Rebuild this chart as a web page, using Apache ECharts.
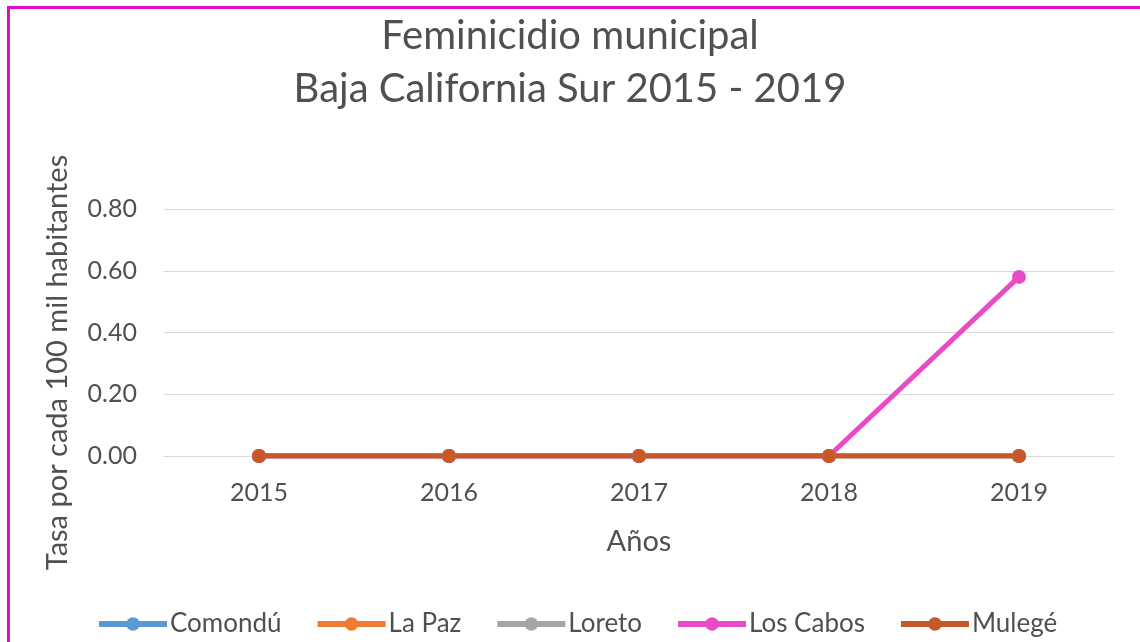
<!DOCTYPE html>
<html>
<head>
<meta charset="utf-8">
<script src="https://cdn.jsdelivr.net/npm/echarts@6/dist/echarts.min.js"></script>
<style>
  html, body { margin: 0; padding: 0; background: #fff; }
  #main { width: 1140px; height: 642px; }
  .marco {
    position: absolute; left: 7px; top: 6px; width: 1200px; height: 700px;
    border-left: 3px solid #E10BC6; border-top: 3px solid #E10BC6;
    pointer-events: none;
  }
</style>
</head>
<body>
<div id="main"></div>
<div class="marco"></div>
<script>
// años del eje x
var anios = ['2015', '2016', '2017', '2018', '2019'];
// tasas por municipio
var comondu = [0, 0, 0, 0, 0];
var laPaz = [0, 0, 0, 0, 0];
var loreto = [0, 0, 0, 0, 0];
var losCabos = [0, 0, 0, 0, 0.58];
var mulege = [0, 0, 0, 0, 0];

var municipios = [
  { name: 'Comondú', data: comondu, color: '#5B9BD5' },
  { name: 'La Paz', data: laPaz, color: '#ED7D31' },
  { name: 'Loreto', data: loreto, color: '#A5A5A5' },
  { name: 'Los Cabos', data: losCabos, color: '#E84BC5' },
  { name: 'Mulegé', data: mulege, color: '#C55A28' }
];

var fuente = 'Lato, "Open Sans", sans-serif';
var gris = '#505050';

var chart = echarts.init(document.getElementById('main'));
chart.setOption({
  animation: false,
  textStyle: { fontFamily: fuente },
  title: {
    text: 'Feminicidio municipal\nBaja California Sur 2015 - 2019',
    left: 'center',
    top: 5,
    textStyle: { fontFamily: fuente, fontSize: 40, fontWeight: 'normal', color: gris, lineHeight: 53 }
  },
  legend: {
    top: 606,
    left: 91,
    itemWidth: 68,
    itemHeight: 17,
    itemGap: 33,
    lineStyle: { width: 6 },
    textStyle: { fontFamily: fuente, fontSize: 26, color: gris, padding: [0, 0, 0, -2] },
    data: municipios.map(function (m) { return m.name; })
  },
  grid: { left: 164, right: 26, top: 209, bottom: 186 },
  xAxis: {
    type: 'category',
    data: anios,
    boundaryGap: true,
    name: 'Años',
    nameLocation: 'middle',
    nameGap: 71,
    nameTextStyle: { fontFamily: fuente, fontSize: 29, color: gris },
    axisLine: { lineStyle: { color: '#D9D9D9', width: 1 } },
    axisTick: { show: false },
    axisLabel: { fontFamily: fuente, fontSize: 25, color: gris, margin: 24 }
  },
  yAxis: {
    type: 'value',
    min: 0,
    max: 0.8,
    interval: 0.2,
    name: 'Tasa por cada 100 mil habitantes',
    nameLocation: 'middle',
    nameGap: 92,
    nameRotate: 90,
    nameTextStyle: { fontFamily: fuente, fontSize: 29, color: gris, padding: [0, 60, 0, 0] },
    axisLine: { show: false },
    axisTick: { show: false },
    axisLabel: {
      fontFamily: fuente, fontSize: 25, color: gris, margin: 27,
      formatter: function (v) { return v.toFixed(2); }
    },
    splitLine: { lineStyle: { color: '#D9D9D9', width: 1 } }
  },
  series: municipios.map(function (m) {
    return {
      name: m.name,
      type: 'line',
      data: m.data,
      symbol: 'circle',
      symbolSize: 14,
      color: m.color,
      lineStyle: { width: 5, color: m.color },
      itemStyle: { color: m.color }
    };
  })
});
</script>
</body>
</html>
